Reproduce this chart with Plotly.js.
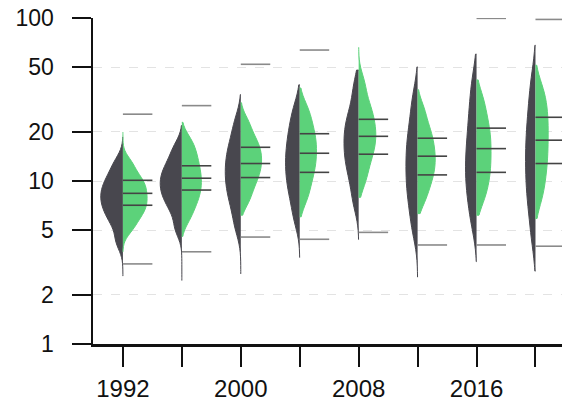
<!DOCTYPE html>
<html><head><meta charset="utf-8">
<script src="https://cdn.plot.ly/plotly-3.0.1.min.js"></script>
<style>html,body{margin:0;padding:0;background:#fff}#chart{width:562px;height:401px}</style>
</head><body><div id="chart"></div>
<script>
// ---- data (y is in original units, drawn on a log10 scale) ----
const years = [1992, 1996, 2000, 2004, 2008, 2012, 2016, 2020];
const xTickLabels = ['1992', '', '2000', '', '2008', '', '2016', ''];
const yTickValues = [1, 2, 5, 10, 20, 50, 100];
const yTickLabels = ['1', '2', '5', '10', '20', '50', '100'];

// left (dark) half: representative sample values per year
const darkSamples = [
  [4.27, 5.46, 6.21, 6.89, 7.50, 8.18, 8.91, 9.77, 10.91, 12.97],
  [5.13, 6.56, 7.52, 8.30, 9.08, 9.91, 10.84, 11.86, 13.40, 16.07],
  [5.27, 6.85, 8.11, 9.31, 10.54, 11.94, 13.52, 15.45, 18.07, 23.07],
  [5.87, 7.64, 9.14, 10.54, 12.16, 13.90, 15.89, 18.62, 21.98, 27.73],
  [7.41, 9.82, 11.94, 13.68, 15.67, 17.91, 20.42, 23.28, 27.67, 38.02],
  [5.00, 6.64, 8.22, 9.73, 11.51, 13.65, 16.14, 19.14, 24.10, 32.73],
  [5.52, 7.31, 8.97, 10.67, 12.68, 15.10, 18.28, 22.96, 29.44, 40.83],
  [4.57, 6.62, 8.30, 10.28, 12.50, 15.21, 18.45, 23.01, 29.58, 41.59]
];
// right (green) half
const greenSamples = [
  [5.12, 5.95, 6.54, 7.10, 7.69, 8.34, 9.08, 9.86, 10.84, 12.82],
  [5.96, 7.13, 7.98, 8.89, 9.79, 10.81, 11.99, 13.43, 15.28, 17.74],
  [7.59, 9.12, 10.40, 11.48, 12.65, 13.87, 15.21, 16.79, 18.79, 22.86],
  [7.80, 9.53, 11.17, 12.59, 14.19, 15.96, 17.91, 20.14, 23.44, 28.12],
  [10.0, 12.47, 14.66, 16.44, 18.41, 20.61, 22.96, 26.30, 30.34, 39.72],
  [7.69, 9.35, 10.67, 11.97, 13.37, 14.89, 16.67, 18.97, 21.68, 27.35],
  [7.69, 9.35, 10.86, 12.47, 14.29, 16.41, 18.79, 21.53, 25.59, 32.06],
  [7.85, 9.86, 11.89, 13.96, 16.37, 19.14, 22.39, 26.06, 30.83, 37.33]
];
// extent of each half violin (tail tips)
const darkMin = [2.61, 2.45, 2.69, 3.39, 4.37, 2.57, 3.2, 2.8];
const darkMax = [18.6, 21.9, 33.9, 38.9, 47.9, 50.1, 60, 68];
const greenMin = [3.68, 4.57, 6.17, 6.03, 7.94, 6.31, 6.17, 5.89];
const greenMax = [19.95, 22.9, 30.2, 37.2, 66.1, 36.3, 41.7, 51.3];

// horizontal marker lines on the right side
const lineTop = [25.7, 29.0, 52, 63.6, null, null, 99.5, 98];
const lineQ3 = [10.1, 12.4, 16.1, 19.5, 23.9, 18.3, 21.1, 24.6];
const lineMedian = [8.4, 10.4, 12.8, 14.8, 18.8, 14.2, 15.8, 17.8];
const lineQ1 = [7.1, 8.8, 10.5, 11.3, 14.6, 10.9, 11.3, 12.8];
const lineBottom = [3.1, 3.68, 4.53, 4.39, 4.84, 4.05, 4.05, 3.98];

// ---- styling ----
const DARK = '#48474e';
const GREEN = '#5cd27a';
const QLINE = '#444444';
const OLINE = '#8a8a8a';
const FONT = 'Liberation Sans, Arial, sans-serif';
const LINE_LEN = 2;      // years to the right of the centre
const BW_FACTOR = 0.4;

const lg = v => Math.log10(v);
function sd(a) {
  const m = a.reduce((s, v) => s + v, 0) / a.length;
  return Math.sqrt(a.reduce((s, v) => s + (v - m) * (v - m), 0) / (a.length - 1));
}

const traces = [];
function addViolin(year, samples, lo, hi, side, color) {
  const ys = samples.map(lg);
  traces.push({
    type: 'violin',
    x: ys.map(() => year),
    y: ys,
    side: side,
    scalegroup: 'all',
    scalemode: 'width',
    spanmode: 'manual',
    span: [lg(lo), lg(hi)],
    bandwidth: BW_FACTOR * sd(ys),
    points: false,
    box: { visible: false },
    meanline: { visible: false },
    fillcolor: color,
    line: { color: color, width: 1 },
    hoverinfo: 'skip',
    showlegend: false,
    name: side + year
  });
}
years.forEach((yr, i) => {
  addViolin(yr, darkSamples[i], darkMin[i], darkMax[i], 'negative', DARK);
  addViolin(yr, greenSamples[i], greenMin[i], greenMax[i], 'positive', GREEN);
});

function segTrace(series, color) {
  const xs = [], ys = [];
  series.forEach(arr => {
    years.forEach((yr, i) => {
      if (arr[i] == null) return;
      xs.push(yr, yr + LINE_LEN, null);
      ys.push(lg(arr[i]), lg(arr[i]), null);
    });
  });
  return { type: 'scatter', mode: 'lines', x: xs, y: ys, line: { color: color, width: 1.6 },
           hoverinfo: 'skip', showlegend: false };
}
traces.push(segTrace([lineTop, lineBottom], OLINE));
traces.push(segTrace([lineQ3, lineMedian, lineQ1], QLINE));

const layout = {
  width: 562, height: 401,
  margin: { l: 93, r: 0, t: 18, b: 57 },
  paper_bgcolor: '#ffffff', plot_bgcolor: '#ffffff',
  font: { family: FONT, color: '#111111', size: 24 },
  violinmode: 'overlay',
  violingap: 0.18, violingroupgap: 0,
  showlegend: false,
  xaxis: {
    range: [1989.97, 2021.8],
    tickvals: years, ticktext: xTickLabels,
    ticks: 'outside', ticklen: 20, tickwidth: 2, tickcolor: '#111',
    showline: true, linewidth: 2.5, linecolor: '#111',
    showgrid: false, zeroline: false,
    tickfont: { family: FONT, size: 24, color: '#111' },
    ticklabelstandoff: 2
  },
  yaxis: {
    range: [0, 2],
    tickvals: yTickValues.map(lg), ticktext: yTickLabels,
    ticks: 'outside', ticklen: 19, tickwidth: 2, tickcolor: '#111',
    showline: true, linewidth: 2.5, linecolor: '#111',
    showgrid: true, gridcolor: '#e3e3e3', griddash: 'dash', gridwidth: 1,
    zeroline: false,
    tickfont: { family: FONT, size: 23, color: '#111' },
    ticklabelstandoff: 13
  }
};

Plotly.newPlot('chart', traces, layout, { staticPlot: true, displayModeBar: false });
</script>
</body></html>
